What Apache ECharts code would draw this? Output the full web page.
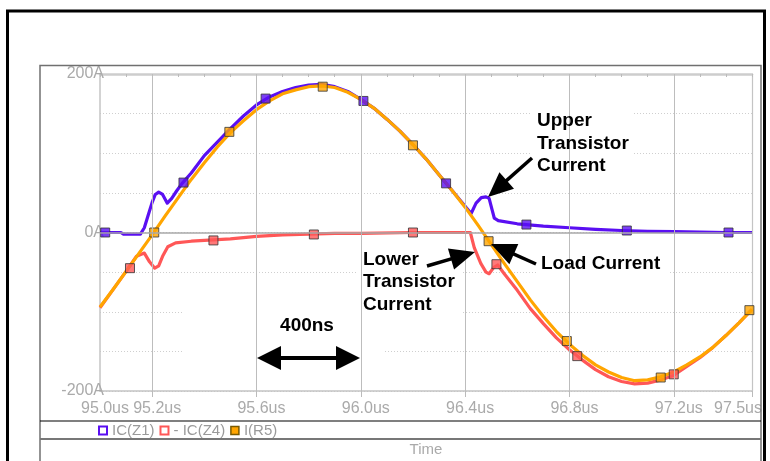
<!DOCTYPE html>
<html><head><meta charset="utf-8">
<script src="https://cdn.jsdelivr.net/npm/echarts@6/dist/echarts.min.js"></script>
<style>html,body{margin:0;padding:0;background:#fff}#c{width:770px;height:461px}</style>
</head><body><div id="c"></div>
<script>
// ---- data (time in us, current in A) ----
const seriesNames = ['IC(Z1)', '- IC(Z4)', 'I(R5)'];
const icZ1 = [[95.0,0],[95.08,0],[95.09,-2],[95.155,-2],[95.17,6],[95.185,22],[95.2,38],[95.212,48],[95.225,51],[95.24,48],[95.258,37],[95.275,43],[95.295,53],[95.315,62],[95.35,75],[95.4,97],[95.45,114],[95.5,131],[95.55,147],[95.6,161],[95.65,171],[95.7,178],[95.75,183],[95.8,186],[95.85,187],[95.9,184],[95.95,178],[96.0,168],[96.05,157],[96.1,143],[96.15,128],[96.2,111],[96.25,93],[96.3,73],[96.35,53],[96.4,33],[96.423,24],[96.442,37],[96.462,44],[96.48,45],[96.492,43],[96.504,28],[96.512,18],[96.527,15],[96.6,11],[96.7,8],[96.8,6],[96.9,4],[97.0,2.5],[97.1,1.5],[97.2,1],[97.3,0.5],[97.4,0],[97.5,0]];
const icZ4neg = [[95.0,-95],[95.05,-72],[95.1,-49],[95.14,-30],[95.17,-26],[95.19,-37],[95.21,-45],[95.225,-42],[95.24,-30],[95.26,-18],[95.29,-13],[95.35,-11],[95.4,-10],[95.5,-8],[95.6,-5],[95.7,-3],[95.8,-2],[95.9,-1],[96.0,-1],[96.2,0],[96.42,0],[96.435,-19],[96.46,-39],[96.48,-50],[96.492,-52],[96.51,-44],[96.525,-41],[96.55,-52],[96.6,-73],[96.65,-96],[96.7,-115],[96.75,-133],[96.8,-148],[96.85,-161],[96.9,-173],[96.95,-182],[97.0,-188],[97.05,-191],[97.1,-190],[97.15,-186],[97.2,-180],[97.25,-169],[97.3,-158],[97.35,-145],[97.4,-130],[97.45,-114],[97.5,-97]];
const iR5 = [[95.0,-94],[95.05,-72],[95.1,-49],[95.15,-26],[95.2,-3],[95.25,21],[95.3,44],[95.35,67],[95.4,88],[95.45,108],[95.5,126],[95.55,141],[95.6,155],[95.65,166],[95.7,175],[95.75,180],[95.8,184],[95.85,185],[95.9,183],[95.95,177],[96.0,168],[96.05,157],[96.1,143],[96.15,128],[96.2,111],[96.25,93],[96.3,73],[96.35,53],[96.4,32],[96.45,9],[96.5,-15],[96.55,-39],[96.6,-62],[96.65,-85],[96.7,-106],[96.75,-125],[96.8,-141],[96.85,-155],[96.9,-167],[96.95,-176],[97.0,-183],[97.05,-187],[97.1,-186],[97.15,-182],[97.2,-176],[97.25,-167],[97.3,-157],[97.35,-145],[97.4,-130],[97.45,-114],[97.5,-97]];
const markersZ1 = [[95.02,0],[95.32,63],[95.635,169],[96.01,166],[96.327,62],[96.635,10],[97.02,2.5],[97.41,0]];
const markersZ4 = [[95.115,-45],[95.435,-10],[95.82,-2.5],[96.2,0],[96.52,-40],[96.83,-156],[97.2,-179]];
const markersR5 = [[95.208,0],[95.496,127],[95.854,184],[96.2,110],[96.49,-11],[96.79,-137],[97.15,-183],[97.49,-98]];
const xLabelValues = [95.0, 95.2, 95.6, 96.0, 96.4, 96.8, 97.2, 97.5];
const majorTicks = [95.2, 95.6, 96.0, 96.4, 96.8, 97.2];
const yLabelValues = [-200, 0, 200];

const COL = {z1:'#5a0ff2', z4:'#ff5757', r5:'#ffa500'};
const FONT = 'Liberation Sans, Arial, sans-serif';
const chart = echarts.init(document.getElementById('c'), null, {renderer:'canvas'});

function arrow(x1,y1,x2,y2,L,W,lw){
  const dx=x2-x1, dy=y2-y1, d=Math.hypot(dx,dy), ux=dx/d, uy=dy/d;
  const bx=x2-ux*L, by=y2-uy*L;
  return [
    {type:'polyline', z:10, shape:{points:[[x1,y1],[bx+ux*3,by+uy*3]]}, style:{stroke:'#000', lineWidth:lw, fill:null}},
    {type:'polygon', z:10, shape:{points:[[x2,y2],[bx-uy*W,by+ux*W],[bx+uy*W,by-ux*W]]}, style:{fill:'#000'}}
  ];
}
const boldText = (x,y,t,extra) => Object.assign({type:'text', z:10, x:x, y:y, style:{text:t, font:'bold 19px '+FONT, fill:'#000', lineHeight:22.5, verticalAlign:'top'}}, extra||{});
const whiteBox = (x,y,w,h) => ({type:'rect', z:1, shape:{x:x,y:y,width:w,height:h}, style:{fill:'#fff'}});

const graphics = [
  {type:'rect', z:20, shape:{x:7.5,y:11,width:757,height:500}, style:{fill:null, stroke:'#000', lineWidth:3}},
  {type:'rect', z:20, shape:{x:40,y:65.5,width:721,height:450}, style:{fill:null, stroke:'#707070', lineWidth:1.5}},
  {type:'line', z:20, shape:{x1:40,y1:421,x2:761,y2:421}, style:{stroke:'#000', lineWidth:1.2}},
  {type:'line', z:20, shape:{x1:40,y1:439,x2:761,y2:439}, style:{stroke:'#777', lineWidth:2}},
  whiteBox(183,287,200,74),
  whiteBox(530,107,103,70),
  whiteBox(536,251,134,28),
  whiteBox(357,246,106,72),
  boldText(537,110,'Upper\nTransistor\nCurrent'),
  boldText(363,248.5,'Lower\nTransistor\nCurrent'),
  boldText(541,253,'Load Current'),
  boldText(307,316,'400ns',{style:{text:'400ns', font:'bold 19px '+FONT, fill:'#000', align:'center', verticalAlign:'top'}}),
  ...arrow(532,158,488,197,25,11,3.5),
  ...arrow(536,264,491,244,25,11,3.5),
  ...arrow(427,266,475,252,25,11,3.5),
  ...arrow(300,358,257,358,24,12,4),
  ...arrow(300,358,360,358,24,12,4)
];

const option = {
  animation:false,
  backgroundColor:'#fff',
  textStyle:{fontFamily:FONT},
  grid:{left:100, right:18, top:74, bottom:70, containLabel:false, outerBoundsMode:'none'},
  legend:{
    left:98, top:423, padding:0, itemWidth:8, itemHeight:8, itemGap:5, icon:'rect',
    textStyle:{color:'#9a9a9a', fontSize:15, fontFamily:FONT},
    data:[
      {name:seriesNames[0], itemStyle:{color:'#fff', borderColor:COL.z1, borderWidth:2}},
      {name:seriesNames[1], itemStyle:{color:'#fff', borderColor:COL.z4, borderWidth:2}},
      {name:seriesNames[2], itemStyle:{color:COL.r5, borderColor:'#7a5a00', borderWidth:1.5}}
    ]
  },
  xAxis:[
    {type:'value', min:95.0, max:97.5, interval:0.1, position:'bottom',
     axisLine:{show:true, onZero:false, lineStyle:{color:'#c4c4c4', width:1.5}},
     axisTick:{show:true, customValues:majorTicks.concat([97.5]), length:6, lineStyle:{color:'#bbb'}},
     axisLabel:{customValues:xLabelValues, margin:10,
       formatter:function(v){const s=v.toFixed(1)+'us'; return Math.abs(v-97.5)<1e-6 ? '{e|'+s+'}' : '{n|'+s+'}';},
       rich:{n:{fontSize:16, color:'#aaa', fontFamily:FONT, padding:[0,0,0,10]}, e:{fontSize:16, color:'#aaa', fontFamily:FONT, padding:[0,28,0,0]}}},
     splitLine:{show:true, lineStyle:{color:'#cfcfcf', type:[1,2], width:1}},
     name:'Time', nameLocation:'middle', nameGap:51, nameTextStyle:{color:'#aaa', fontSize:15, fontFamily:FONT}
    },
    {type:'value', min:95.0, max:97.5, interval:0.1, position:'top',
     axisLine:{show:true, onZero:false, lineStyle:{color:'#cdcdcd', width:2.5}},
     axisTick:{show:true, inside:true, length:3, lineStyle:{color:'#bbb'}},
     axisLabel:{show:false}, splitLine:{show:false}},
    {type:'value', min:95.0, max:97.5, interval:0.1, position:'top',
     axisLine:{show:false, onZero:false},
     axisTick:{show:true, inside:true, length:6, customValues:majorTicks, lineStyle:{color:'#bbb'}},
     axisLabel:{show:false}, splitLine:{show:false}}
  ],
  yAxis:[
    {type:'value', min:-200, max:200, interval:50,
     axisLine:{show:true, onZero:false, lineStyle:{color:'#c4c4c4', width:1.5}},
     axisTick:{show:false},
     axisLabel:{customValues:yLabelValues, formatter:'{value}A', margin:-4, color:'#aaa', fontSize:16, fontFamily:FONT},
     splitLine:{show:true, lineStyle:{color:'#cfcfcf', type:[1,2], width:1}}},
    {type:'value', min:-200, max:200, interval:50, position:'right',
     axisLine:{show:true, onZero:false, lineStyle:{color:'#c4c4c4', width:1.2}},
     axisTick:{show:false}, axisLabel:{show:false}, splitLine:{show:false}}
  ],
  series:[
    {type:'line', name:'grid', z:0, silent:true, data:[[95,0]], showSymbol:false, symbol:'none', lineStyle:{width:0},
     markLine:{silent:true, symbol:['none','none'], animation:false, label:{show:false},
       lineStyle:{color:'#bdbdbd', type:'solid', width:1},
       data: majorTicks.map(v=>({xAxis:v})).concat([{yAxis:0, lineStyle:{color:'#a8a8a8', type:'solid', width:1.5}}])}},
    {type:'line', name:seriesNames[0], z:3, data:icZ1, showSymbol:false, symbol:'none', smooth:false, lineStyle:{color:COL.z1, width:3.2, join:'round'}, itemStyle:{color:COL.z1}},
    {type:'line', name:seriesNames[1], z:3, data:icZ4neg, showSymbol:false, symbol:'none', smooth:false, lineStyle:{color:COL.z4, width:3.2, join:'round'}, itemStyle:{color:COL.z4}},
    {type:'line', name:seriesNames[2], z:3, data:iR5, showSymbol:false, symbol:'none', smooth:false, lineStyle:{color:COL.r5, width:3.2, join:'round'}, itemStyle:{color:COL.r5}},
    {type:'scatter', name:seriesNames[0], z:4, clip:false, data:markersZ1, symbol:'rect', symbolSize:9, itemStyle:{color:COL.z1, borderColor:'#333', borderWidth:1}},
    {type:'scatter', name:seriesNames[1], z:4, clip:false, data:markersZ4, symbol:'rect', symbolSize:9, itemStyle:{color:COL.z4, borderColor:'#333', borderWidth:1}},
    {type:'scatter', name:seriesNames[2], z:4, clip:false, data:markersR5, symbol:'rect', symbolSize:9, itemStyle:{color:COL.r5, borderColor:'#333', borderWidth:1}}
  ],
  graphic:{elements:graphics}
};
chart.setOption(option);
</script>
</body></html>
